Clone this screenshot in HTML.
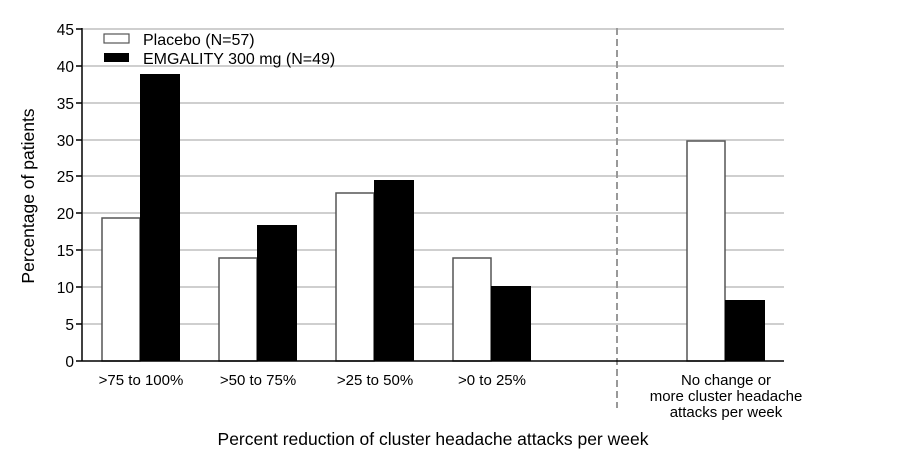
<!DOCTYPE html>
<html><head><meta charset="utf-8"><style>body{margin:0;background:#fff}</style></head><body>
<svg width="900" height="455" xmlns="http://www.w3.org/2000/svg" font-family="Liberation Sans, sans-serif">
<rect width="900" height="455" fill="#fff"/>
<g stroke="#cfcfcf" stroke-width="2">
<line x1="83" x2="784" y1="29" y2="29"/><line x1="83" x2="784" y1="66" y2="66"/><line x1="83" x2="784" y1="103" y2="103"/><line x1="83" x2="784" y1="140" y2="140"/><line x1="83" x2="784" y1="176" y2="176"/><line x1="83" x2="784" y1="213" y2="213"/><line x1="83" x2="784" y1="250" y2="250"/><line x1="83" x2="784" y1="287" y2="287"/><line x1="83" x2="784" y1="324" y2="324"/>
</g>
<line x1="617" x2="617" y1="28" y2="408" stroke="#999" stroke-width="2" stroke-dasharray="7,4"/>
<g stroke="#555" stroke-width="1.5">
<rect x="102" y="218" width="38" height="143" fill="#fff"/>
<rect x="219" y="258" width="38" height="103" fill="#fff"/>
<rect x="336" y="193" width="38" height="168" fill="#fff"/>
<rect x="453" y="258" width="38" height="103" fill="#fff"/>
<rect x="687" y="141" width="38" height="220" fill="#fff"/>
</g>
<g fill="#000">
<rect x="140" y="74" width="40" height="287"/>
<rect x="257" y="225" width="40" height="136"/>
<rect x="374" y="180" width="40" height="181"/>
<rect x="491" y="286" width="40" height="75"/>
<rect x="725" y="300" width="40" height="61"/>
</g>
<line x1="82" x2="784" y1="361" y2="361" stroke="#000" stroke-width="1.5"/>
<line x1="82" x2="82" y1="28" y2="361" stroke="#000" stroke-width="1.5"/>
<g stroke="#000" stroke-width="1.5">
<line x1="76" x2="82" y1="29" y2="29"/><line x1="76" x2="82" y1="66" y2="66"/><line x1="76" x2="82" y1="103" y2="103"/><line x1="76" x2="82" y1="140" y2="140"/><line x1="76" x2="82" y1="176" y2="176"/><line x1="76" x2="82" y1="213" y2="213"/><line x1="76" x2="82" y1="250" y2="250"/><line x1="76" x2="82" y1="287" y2="287"/><line x1="76" x2="82" y1="324" y2="324"/><line x1="76" x2="82" y1="361" y2="361"/>
</g>
<g font-size="15.5" text-anchor="end" fill="#000">
<text x="74" y="35">45</text><text x="74" y="72">40</text><text x="74" y="109">35</text><text x="74" y="146">30</text><text x="74" y="182">25</text><text x="74" y="219">20</text><text x="74" y="256">15</text><text x="74" y="293">10</text><text x="74" y="330">5</text><text x="74" y="367">0</text>
</g>
<rect x="104" y="34" width="25" height="9" fill="#fff" stroke="#555" stroke-width="1.2"/>
<rect x="104" y="53" width="25" height="9" fill="#000"/>
<g font-size="16"><text x="143" y="45">Placebo (N=57)</text><text x="143" y="64">EMGALITY 300 mg (N=49)</text></g>
<g font-size="15" text-anchor="middle">
<text x="141" y="385">&gt;75 to 100%</text><text x="258" y="385">&gt;50 to 75%</text><text x="375" y="385">&gt;25 to 50%</text><text x="492" y="385">&gt;0 to 25%</text>
<text x="726" y="385">No change or</text><text x="726" y="401">more cluster headache</text><text x="726" y="417">attacks per week</text>
</g>
<text x="433" y="445" font-size="17.5" text-anchor="middle">Percent reduction of cluster headache attacks per week</text>
<text transform="translate(34,196) rotate(-90)" font-size="17.5" text-anchor="middle">Percentage of patients</text>
</svg>
</body></html>
